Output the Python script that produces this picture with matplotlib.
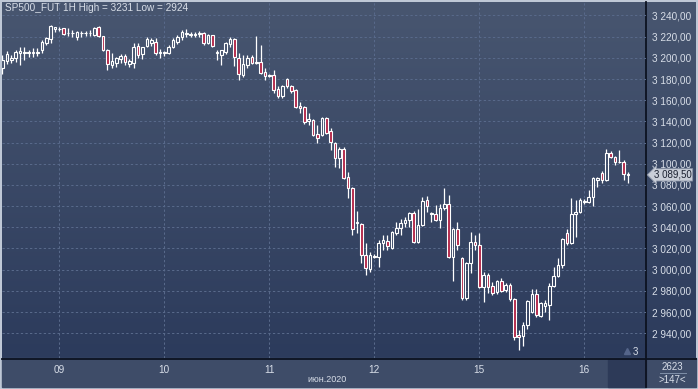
import numpy as np
import matplotlib
matplotlib.use("Agg")
import matplotlib.pyplot as plt
from matplotlib.colors import LinearSegmentedColormap
from matplotlib.transforms import blended_transform_factory

plt.rcParams["font.family"] = ["Liberation Sans", "DejaVu Sans"]

# hourly OHLC, SP500 futures, 8-16 June 2020 (first bar is clipped at the left edge)
opens = [3190, 3197, 3198, 3200, 3205, 3205, 3204.5, 3205, 3204.5, 3207, 3214, 3218, 3227.5, 3227,
         3228, 3223, 3223.5, 3220, 3223, 3223.5, 3223, 3222, 3229, 3220.5, 3207, 3193, 3195, 3199,
         3202, 3194, 3195, 3211, 3204, 3211, 3214, 3215, 3205, 3205.5, 3204.5, 3210, 3215, 3219.5,
         3222.5, 3222, 3221.5, 3222.5, 3223.5, 3214, 3221.5, 3205, 3202.5, 3205.5, 3213, 3218, 3200,
         3184, 3193, 3201, 3195, 3196, 3186.5, 3183.5, 3184, 3170.5, 3164, 3180, 3173.5, 3169.5,
         3154.5, 3153.5, 3140.5, 3141.5, 3128, 3127, 3143, 3131, 3119.5, 3105.5, 3114, 3087.5, 3077,
         3044, 3043, 3014, 3000.5, 3012, 3012, 3025, 3027, 3020.5, 3034.5, 3039.5, 3044, 3047, 3053.5,
         3026, 3042, 3066, 3052.5, 3052.5, 3047, 3058, 3062, 3012, 3038.5, 3011, 2973.5, 3006.5, 3026,
         3023.5, 2983.5, 2995, 2984.5, 2979, 2989.5, 2981, 2985.5, 2972.5, 2938.5, 2937.5, 2948, 2960,
         2977, 2956.5, 2965.5, 2966.5, 2984.5, 2994, 3004.5, 3034.5, 3025, 3052.5, 3054.5, 3064, 3064,
         3068.5, 3084.5, 3091, 3084.5, 3110, 3106.5, 3101.5, 3101.5, 3090.5]
highs = [3203, 3206, 3203, 3207, 3210, 3210, 3207, 3209, 3209, 3217, 3220, 3231, 3229.5, 3229,
         3228.5, 3228, 3226, 3225, 3225, 3225, 3226, 3229, 3230, 3221, 3208, 3204.5, 3201, 3204,
         3204, 3199, 3214, 3214, 3210.5, 3220, 3219, 3219, 3208, 3206.5, 3212, 3218.5, 3221.5, 3226,
         3227, 3224.5, 3224, 3225, 3224.5, 3222.5, 3222, 3207, 3207.5, 3215, 3219.5, 3219, 3204.5,
         3202.5, 3202.5, 3202.5, 3220.5, 3212, 3190.5, 3184.5, 3188.5, 3173.5, 3174.5, 3181, 3174.5,
         3170.5, 3158.5, 3154.5, 3148, 3142, 3136.5, 3144, 3144, 3134, 3120.5, 3116, 3116, 3092, 3078,
         3055.5, 3044, 3025, 3016.5, 3015, 3028, 3033, 3033, 3036.5, 3045, 3048, 3050, 3054.5, 3055.5,
         3057.5, 3068.5, 3069.5, 3054.5, 3061, 3062, 3077, 3070.5, 3039, 3045, 3012, 3007.5, 3035.5,
         3033, 3034.5, 2998, 2997, 2988.5, 2990.5, 2992, 2987.5, 2987.5, 2973.5, 2943, 2950.5, 2971.5,
         2982, 2982, 2969.5, 2971.5, 2987.5, 3002.5, 3011, 3029.5, 3038.5, 3067.5, 3066, 3067.5,
         3066.5, 3075, 3087.5, 3087.5, 3093, 3114, 3112, 3107.5, 3113, 3103.5, 3092]
lows = [3185, 3194, 3195, 3196, 3193, 3198, 3201, 3201, 3202, 3205, 3212, 3214, 3224, 3225,
        3222, 3221, 3220, 3217, 3220, 3220.5, 3221, 3221, 3219.5, 3206, 3188.5, 3190.5, 3191, 3195,
        3193, 3191, 3190, 3200, 3199, 3210, 3211, 3202.5, 3200, 3202, 3203.5, 3209, 3213, 3217,
        3219.5, 3220, 3219.5, 3220, 3212, 3213, 3210, 3198, 3193, 3204, 3210, 3192, 3179, 3182,
        3190.5, 3194.5, 3194, 3184.5, 3179, 3182, 3167, 3162, 3162, 3171.5, 3167, 3152.5, 3148,
        3137.5, 3136.5, 3126, 3119.5, 3126, 3128, 3113, 3097, 3096, 3085.5, 3067.5, 3033, 3034.5,
        3006.5, 2995, 2998, 3011, 3002.5, 3018.5, 3018.5, 3019.5, 3033, 3033, 3040.5, 3040.5, 3025,
        3025, 3041.5, 3054.5, 3045, 3046, 3039.5, 3056.5, 3011, 2989.5, 3018.5, 2971.5, 2971.5, 2997,
        3018.5, 2982.5, 2969.5, 2978, 2976, 2977, 2979, 2979, 2970.5, 2933.5, 2924, 2928, 2944, 2959,
        2955.5, 2955.5, 2960, 2952.5, 2983.5, 2993, 3001.5, 3023.5, 3024.5, 3031, 3053.5, 3062, 3063,
        3060, 3078, 3082, 3083.5, 3105.5, 3099, 3101, 3084.5, 3082]
closes = [3198, 3204, 3200, 3205.5, 3206, 3205.5, 3205, 3204.5, 3205.5, 3215, 3219, 3230, 3229,
          3227.5, 3222.5, 3223.5, 3223, 3224, 3223.5, 3223, 3223.5, 3228, 3220.5, 3207.5, 3194, 3197,
          3200, 3202, 3196, 3197, 3210, 3203, 3210, 3218, 3217, 3204.5, 3205.5, 3205, 3210, 3217,
          3219.5, 3224, 3223.5, 3222.5, 3222, 3223, 3214, 3221.5, 3211, 3205.5, 3207.5, 3214, 3218,
          3200.5, 3184.5, 3194, 3200, 3195, 3196, 3185.5, 3183, 3183, 3169.5, 3164, 3173.5, 3173.5,
          3168.5, 3153.5, 3152.5, 3139.5, 3142, 3127, 3124.5, 3143, 3129, 3120.5, 3105.5, 3114,
          3086.5, 3077, 3038.5, 3045, 3014, 3001.5, 3014, 3013, 3025, 3028, 3022.5, 3035.5, 3039.5,
          3044, 3047, 3053.5, 3026, 3042, 3065, 3060, 3053.5, 3047, 3058, 3062, 3012, 3038.5, 3023.5,
          2973.5, 3006.5, 3026, 3023.5, 2983.5, 2995, 2983.5, 2978, 2989.5, 2980, 2985.5, 2972.5,
          2936.5, 2936.5, 2948, 2970.5, 2977, 2957, 2968.5, 2968.5, 2984.5, 2994, 3004.5, 3029, 3025,
          3052.5, 3054.5, 3066, 3065, 3068.5, 3086.5, 3086.5, 3084.5, 3110, 3106.5, 3101.5, 3102,
          3090.5, 3089.5]

day_labels = ["09", "10", "11", "12", "15", "16"]
day_ticks = [12, 36, 60, 84, 108, 132]  # bar index where each day starts
price_ticks = list(range(2940, 3241, 20))
title = "SP500_FUT 1H High = 3231 Low = 2924"

o = np.array(opens)
h = np.array(highs)
l = np.array(lows)
c = np.array(closes)
x = np.arange(len(o)) - 1

W, H = 698, 389
fig = plt.figure(figsize=(W / 100, H / 100), dpi=100, facecolor="#bfc8d6")

# background / frame drawn in pixel units
bg = fig.add_axes([0, 0, 1, 1])
bg.set_xlim(0, W)
bg.set_ylim(H, 0)
bg.axis("off")
grad = LinearSegmentedColormap.from_list("g", ["#485670", "#2c3b5c"])
bg.imshow(np.linspace(0, 1, 256).reshape(-1, 1), cmap=grad, aspect="auto",
          extent=(2, 696, 358, 2), zorder=0)
bg.add_patch(plt.Rectangle((2, 358), 694, 29, color="#3e4c68", zorder=1))
bg.add_patch(plt.Rectangle((608, 359), 38, 28, color="#2d3a58", zorder=1))
bg.plot([2, 696], [358.5, 358.5], color="#0c1220", lw=1.3, zorder=2)
bg.plot([646, 646], [2, 387], color="#0c1220", lw=1.3, zorder=2)
bg.text(5, 8, title, color="#d8dee8", fontsize=7.2, va="center", ha="left")
bg.text(327, 379, "июн.2020", color="#d8dee8", fontsize=6.5, va="center", ha="center")
bg.text(672, 367, "2623", color="#d8dee8", fontsize=7, va="center", ha="center")
bg.plot([660, 686], [373, 373], color="#8090a8", lw=0.7)
bg.text(672, 380, ">147<", color="#d8dee8", fontsize=7, va="center", ha="center")
bg.plot([627], [351], marker="^", ms=4, color="#55658a", zorder=3)
bg.text(633, 352, "3", color="#d8dee8", fontsize=7, va="center", ha="left")

ax = fig.add_axes([2 / W, (H - 358) / H, 644 / W, 356 / H])
ax.patch.set_alpha(0)
ax.set_xlim(-1.1, 146.1)
ax.set_ylim(2916.6, 3252.7)
for s in ax.spines.values():
    s.set_visible(False)

ax.set_yticks(price_ticks)
ax.set_yticklabels([f"{v // 1000} {v % 1000:03d},00" for v in price_ticks])
ax.yaxis.tick_right()
ax.set_xticks(day_ticks)
ax.set_xticklabels(day_labels)
ax.tick_params(axis="both", length=0, colors="#d8dee8", labelsize=7.2)
ax.tick_params(axis="y", pad=4)
ax.tick_params(axis="x", pad=5)
ax.grid(True, color="#58698a", linestyle=(0, (2.2, 2.2)), linewidth=0.75)
ax.set_axisbelow(True)

up = c >= o
lo = np.minimum(o, c)
hi = np.maximum(o, c)
ax.vlines(x, hi, h, color="white", lw=0.9, zorder=3)
ax.vlines(x, l, lo, color="white", lw=0.9, zorder=3)
ax.bar(x, np.maximum(hi - lo, 0.6), bottom=lo, width=0.6,
       color=np.where(up, "none", "#b3284a"), edgecolor="white", linewidth=0.8, zorder=4)

# last price tag
tr = blended_transform_factory(ax.transAxes, ax.transData)
last = closes[-1]
ax.text(1.012, last, f"{int(last) // 1000} {int(last) % 1000:03d},{int(round(last % 1 * 100)):02d}",
        transform=tr, color="#1a2030", fontsize=7, va="center", ha="left", clip_on=False,
        bbox=dict(boxstyle="larrow,pad=0.12", fc="#c9ced8", ec="#8a93a6", lw=0.6), zorder=6)

fig.savefig("out.png", dpi=100, facecolor=fig.get_facecolor())
